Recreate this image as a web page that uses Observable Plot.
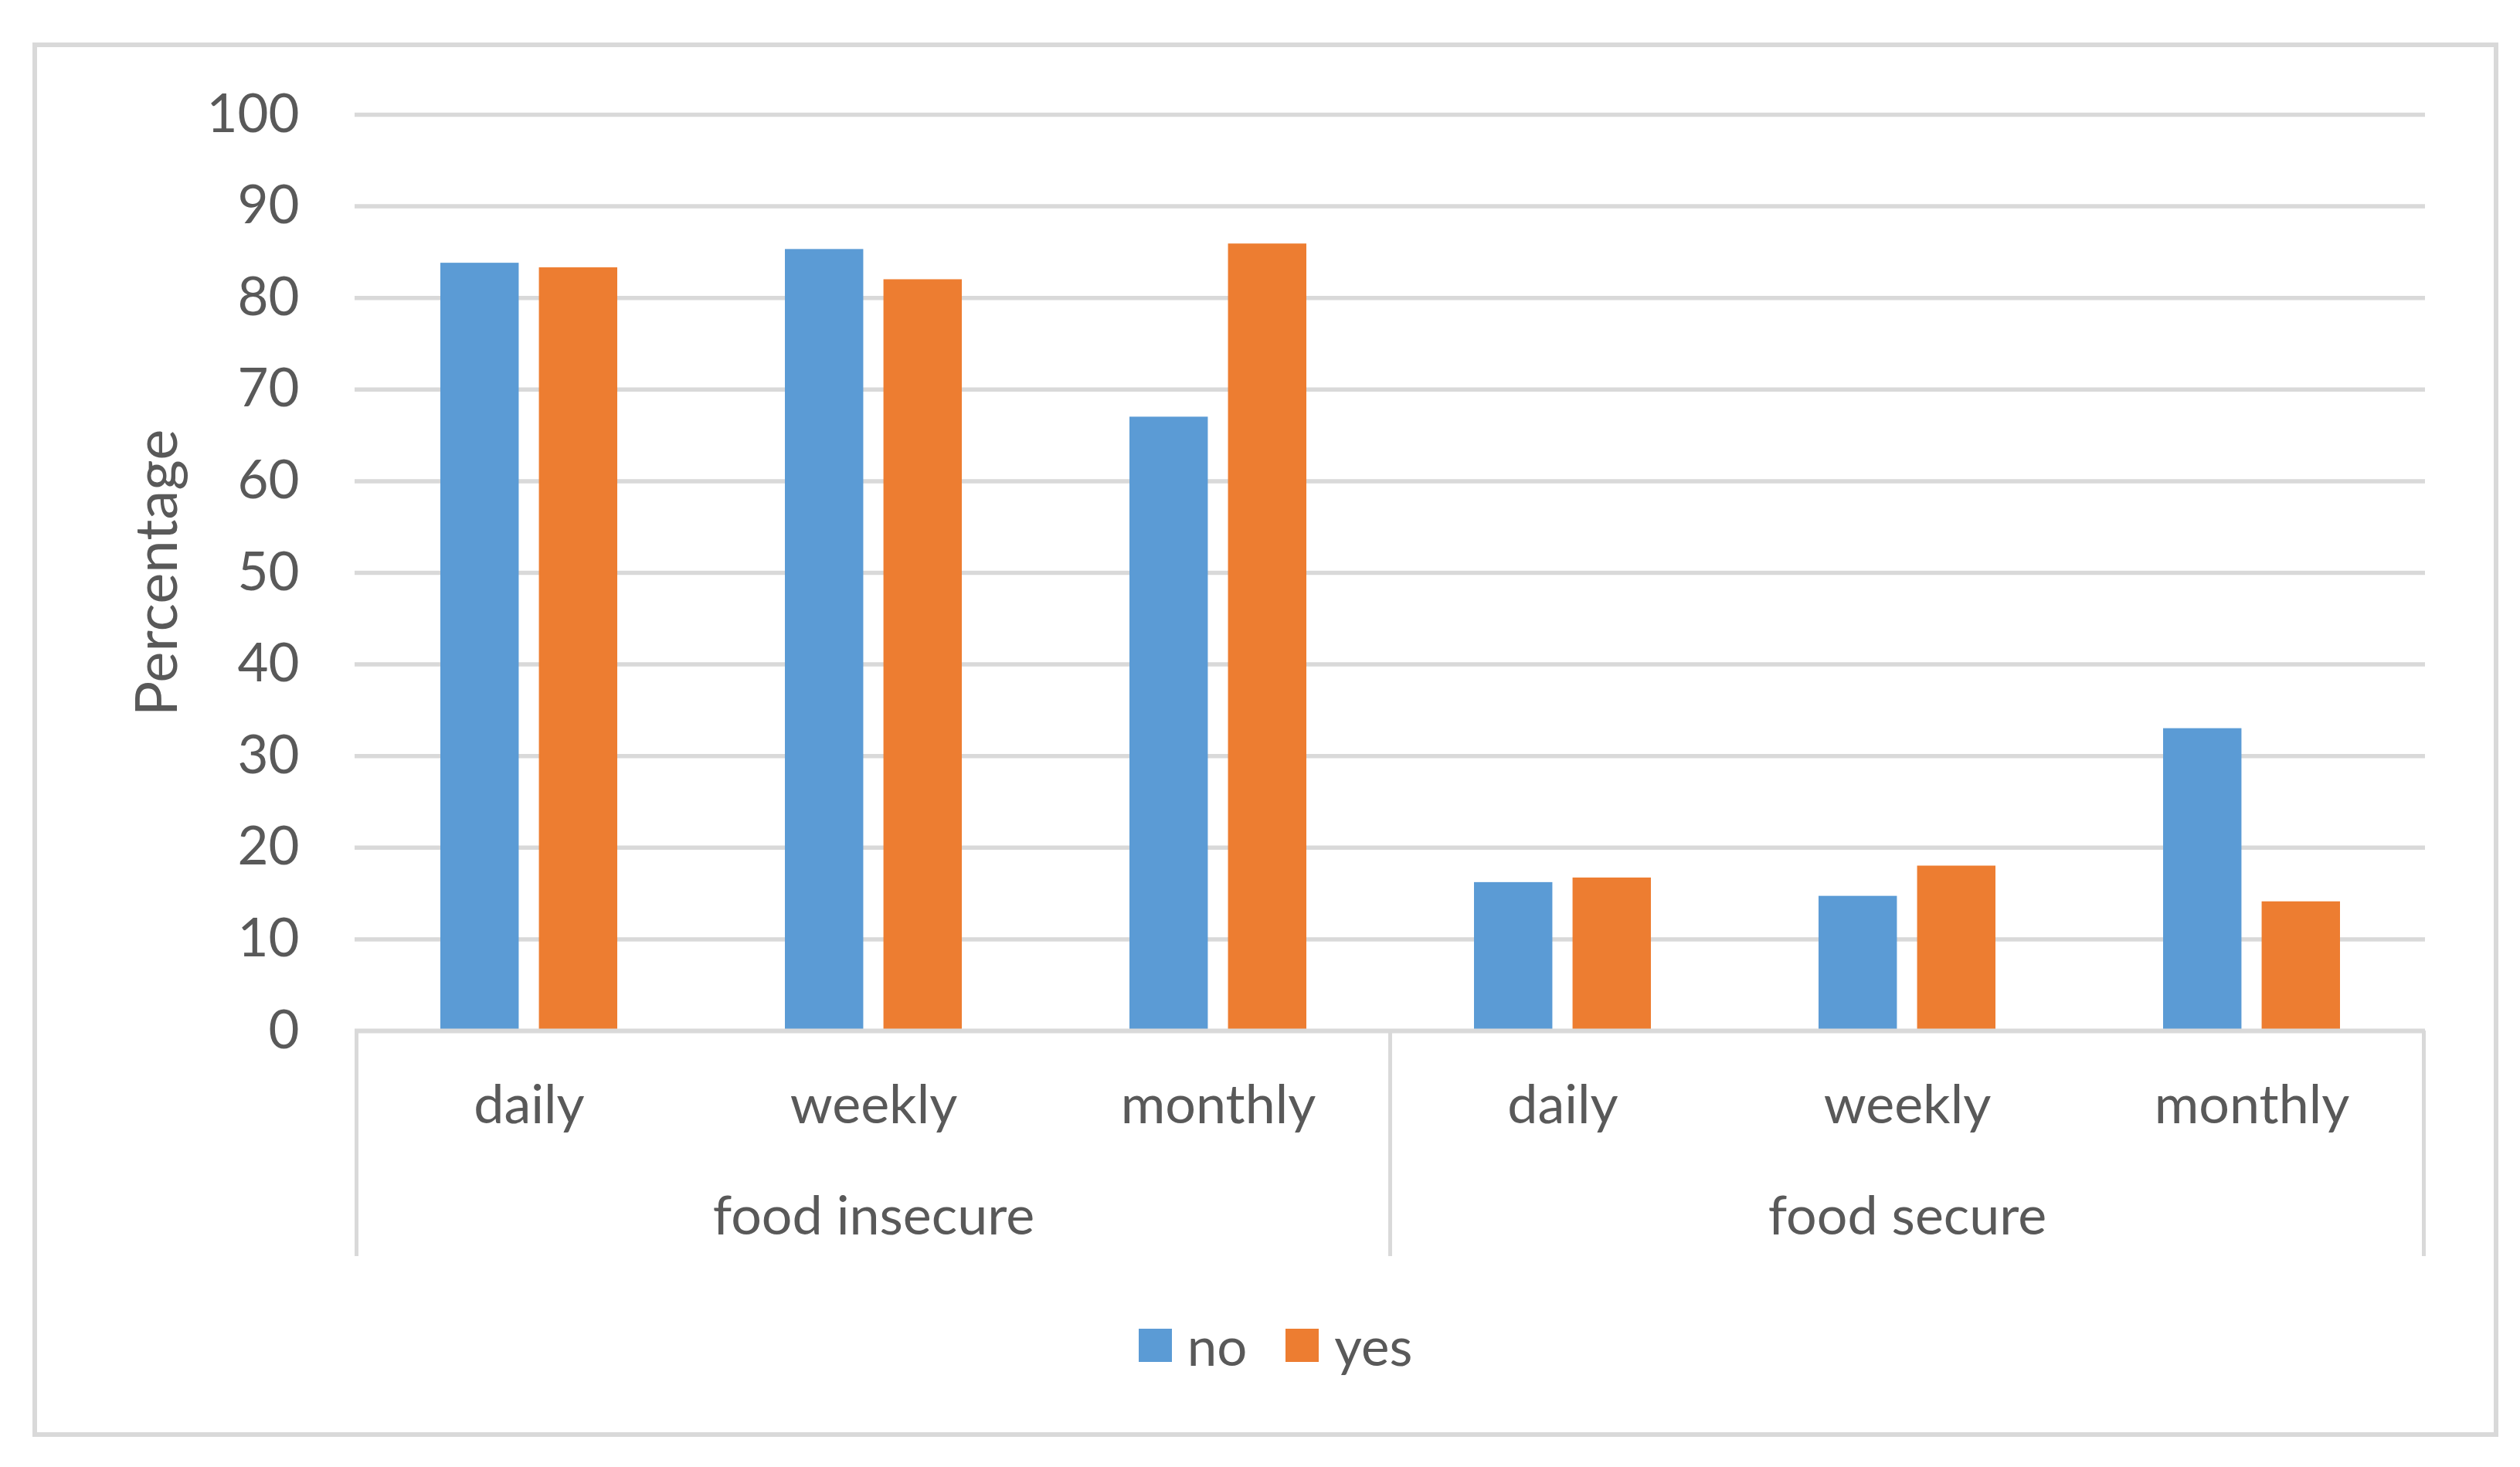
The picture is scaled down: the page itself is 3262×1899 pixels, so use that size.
<!DOCTYPE html>
<html>
<head>
<meta charset="utf-8">
<script src="https://cdn.jsdelivr.net/npm/d3@7"></script>
<script src="https://cdn.jsdelivr.net/npm/@observablehq/plot@0.6"></script>
<style>
  html, body { margin: 0; padding: 0; background: #fff; }
  #wrap { position: relative; width: 3262px; height: 1899px; overflow: hidden; font-family: Lato, "Open Sans", sans-serif; color: #595959; }
  #border { position: absolute; left: 42px; top: 55px; width: 3192px; height: 1805px; box-sizing: border-box; border: 6px solid #d9d9d9; }
  #plot { position: absolute; left: 0; top: 0; }
  #legend { position: absolute; top: 1700px; left: 0; width: 3302px; display: flex; justify-content: center; align-items: center; font-size: 69px; }
  .item { display: flex; align-items: center; margin: 0 25px; }
  .sw { width: 43px; height: 43px; margin-right: 20px; }
</style>
</head>
<body>
<div id="wrap">
  <div id="border"></div>
  <div id="plot"></div>
  <div id="legend"></div>
</div>
<script>
const groups = ["food insecure", "food secure"];
const frequencies = ["daily", "weekly", "monthly"];
const series = ["no", "yes"];
const colors = ["#5B9BD5", "#ED7D31"];
// values in order: food insecure daily, weekly, monthly, food secure daily, weekly, monthly
const noValues = [83.8, 85.3, 67.0, 16.2, 14.7, 33.0];
const yesValues = [83.3, 82.0, 85.9, 16.7, 18.0, 14.1];
const yTicks = [0, 10, 20, 30, 40, 50, 60, 70, 80, 90, 100];
const yLabel = "Percentage";

const keyOf = (g, f) => g + "|" + f;
const keys = groups.flatMap(g => frequencies.map(f => keyOf(g, f)));
const rows = [];
keys.forEach((k, i) => {
  rows.push({key: k, series: series[0], value: noValues[i]});
  rows.push({key: k, series: series[1], value: yesValues[i]});
});

const W = 3262, H = 1680;
const mL = 459, mR = 123, mT = 148, mB = 346;
const bandInner = 0.487;
const pairGapHalf = 13;
const xOpts = {type: "band", domain: keys, paddingInner: bandInner, paddingOuter: bandInner / 2};

// band width from the library's own scale, to split each band into two bars
const bw = Plot.scale({x: {...xOpts, range: [mL, W - mR]}}).bandwidth;
const barW = bw / 2 - pairGapHalf;
const font = "Lato, 'Open Sans', sans-serif";

const plot = Plot.plot({
  width: W,
  height: H,
  marginLeft: mL,
  marginRight: mR,
  marginTop: mT,
  marginBottom: mB,
  style: {fontFamily: font, fontSize: "69px", color: "#595959", background: "transparent"},
  x: xOpts,
  y: {domain: [0, 100]},
  marks: [
    Plot.ruleY(yTicks.filter(d => d > 0), {stroke: "#d9d9d9", strokeWidth: 5.5}),
    Plot.barY(rows.filter(d => d.series === series[0]), {x: "key", y: "value", fill: colors[0], insetRight: bw - barW}),
    Plot.barY(rows.filter(d => d.series === series[1]), {x: "key", y: "value", fill: colors[1], insetLeft: bw - barW}),
    Plot.ruleY([0], {stroke: "#d9d9d9", strokeWidth: 6}),
    Plot.axisY(yTicks, {tickSize: 0, tickPadding: 72, label: null, fontSize: 69}),
    Plot.axisX({tickSize: 0, tickPadding: 70, label: null, tickFormat: d => d.split("|")[1], fontSize: 70}),
    Plot.text(groups, {x: g => keyOf(g, frequencies[1]), frameAnchor: "bottom", lineAnchor: "middle", dy: 241, fontSize: 70, fill: "#595959"}),
    Plot.text([yLabel], {frameAnchor: "left", textAnchor: "middle", lineAnchor: "middle", rotate: -90, dx: -255, fontSize: 76, fill: "#595959"})
  ]
});
document.getElementById("plot").appendChild(plot);

// group separators on the category axis, placed through the library's scales
const xs = plot.scale("x"), ys = plot.scale("y");
const half = (xs.step - xs.bandwidth) / 2;
const y0 = ys.apply(0);
const sepX = [
  xs.apply(keys[0]) - half,
  xs.apply(keyOf(groups[1], frequencies[0])) - half,
  xs.apply(keys[keys.length - 1]) + xs.bandwidth + half
];
d3.select(plot).append("g").selectAll("line").data(sepX).join("line")
  .attr("x1", d => d).attr("x2", d => d)
  .attr("y1", y0).attr("y2", y0 + 292)
  .attr("stroke", "#d9d9d9").attr("stroke-width", 5);

// legend
const leg = d3.select("#legend");
series.forEach((s, i) => {
  const it = leg.append("div").attr("class", "item");
  it.append("div").attr("class", "sw").style("background", colors[i]);
  it.append("span").text(s);
});
</script>
</body>
</html>
